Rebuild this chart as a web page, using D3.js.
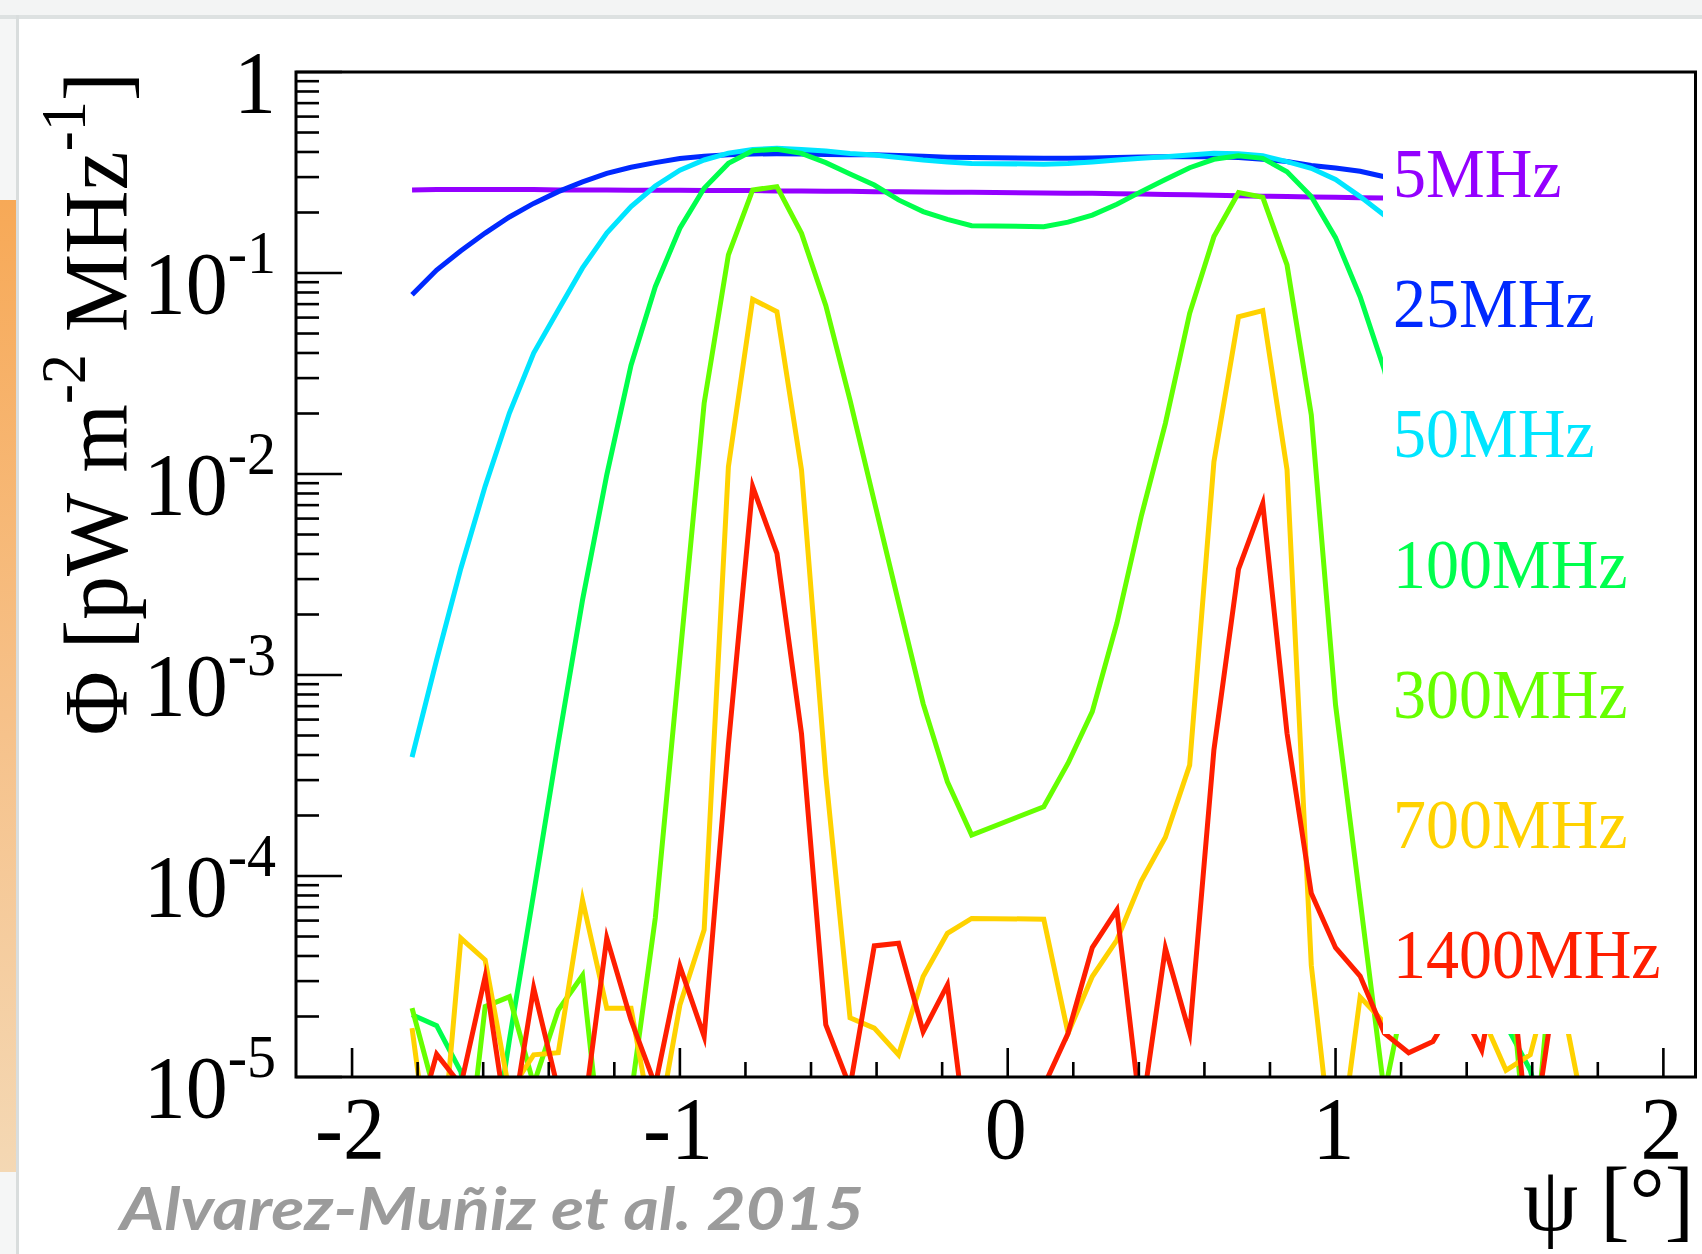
<!DOCTYPE html>
<html><head><meta charset="utf-8">
<script src="https://cdn.jsdelivr.net/npm/d3@7"></script>
<style>
html,body{margin:0;padding:0;background:#fff;}
svg{display:block;}
</style></head>
<body>
<script>
// ---------- data ----------
const psi = [-1.817,-1.742,-1.668,-1.594,-1.520,-1.446,-1.371,-1.297,-1.223,-1.149,-1.075,-1.000,
             -0.926,-0.852,-0.778,-0.704,-0.629,-0.555,-0.481,-0.407,-0.333,-0.258,-0.184,-0.110,
              0.110, 0.184, 0.258, 0.333, 0.407, 0.481, 0.555, 0.629, 0.704, 0.778, 0.852, 0.926,
              1.000, 1.075, 1.149, 1.223, 1.297, 1.371, 1.446, 1.520, 1.594, 1.668, 1.742, 1.817];

const f5 = [0.259,0.260,0.260,0.260,0.260,0.260,0.259,0.259,0.259,0.258,0.258,0.258,
            0.257,0.257,0.257,0.256,0.256,0.255,0.255,0.254,0.254,0.253,0.252,0.252,
            0.250,0.249,0.249,0.248,0.247,0.246,0.245,0.244,0.242,0.241,0.240,0.239,
            0.238,0.237,0.236,null,null,null,null,null,null,null,null,null];
const f25 = [0.078,0.1035,0.129,0.158,0.190,0.222,0.254,0.284,0.313,0.336,0.354,0.371,
             0.381,0.388,0.391,0.392,0.391,0.389,0.388,0.387,0.384,0.381,0.377,0.375,
             0.372,0.372,0.373,0.376,0.378,0.379,0.379,0.379,0.376,0.368,0.359,0.343,
             0.333,0.321,0.301,null,null,null,null,null,null,null,null,null];
const f50 = [3.9e-4,1.19e-3,3.4e-3,8.7e-3,0.0201,0.040,0.0655,0.106,0.158,0.214,0.271,0.325,
             0.365,0.395,0.412,0.417,0.412,0.405,0.393,0.386,0.376,0.365,0.357,0.351,
             0.348,0.351,0.357,0.365,0.372,0.379,0.386,0.394,0.392,0.383,0.358,0.332,
             0.292,0.240,0.194,null,null,null,null,null,null,null,null,null];
const f100 = [2.04e-5,1.8e-5,1.06e-5,2.5e-6,1.53e-5,8.2e-5,4.6e-4,2.36e-3,9.9e-3,0.0348,0.0855,0.167,
              0.264,0.351,0.406,0.4125,0.394,0.354,0.311,0.274,0.231,0.202,0.185,0.172,
              0.170,0.179,0.194,0.220,0.254,0.292,0.334,0.368,0.383,0.372,0.319,0.240,
              0.150,0.0762,0.0329,0.010,2.4e-3,4.5e-4,8e-5,1.82e-5,1.08e-5,4e-6,4e-6,4e-6];
const f300 = [2.2e-5,7.7e-6,2e-6,2.24e-5,2.51e-5,9.2e-6,2.15e-5,3.2e-5,2.5e-6,8.1e-6,6.18e-5,1.22e-3,
              0.0225,0.123,0.259,0.269,0.1575,0.069,0.0233,7.3e-3,2.3e-3,7.2e-4,2.94e-4,1.6e-4,
              2.21e-4,3.64e-4,6.57e-4,1.81e-3,6.13e-3,0.01787,0.063,0.1517,0.251,0.238,0.1096,0.0197,
              7.1e-4,7.6e-5,8.3e-6,3.25e-5,3e-5,3e-5,3e-5,6e-5,2.5e-6,5.4e-5,3e-5,3e-5];
const f700 = [1.75e-5,2.1e-6,4.9e-5,3.82e-5,8.4e-6,1.29e-5,1.32e-5,7.6e-5,2.2e-5,2.2e-5,4.7e-6,2.28e-5,
              5.4e-5,0.01087,0.074,0.0642,0.01047,3.18e-4,1.97e-5,1.75e-5,1.29e-5,3.16e-5,5.19e-5,6.15e-5,
              6.1e-5,1.65e-5,3.16e-5,4.8e-5,9.4e-5,1.56e-4,3.56e-4,0.0115,0.0606,0.065,0.0105,3.6e-5,
              3e-6,2.5e-5,1.86e-5,2.2e-5,2.5e-5,2.3e-5,2.03e-5,1.08e-5,1.29e-5,3.7e-5,9e-6,7e-6];
const f1400 = [4.7e-6,1.3e-5,9.1e-6,3.16e-5,4.9e-6,2.77e-5,8.6e-6,5.9e-6,4.92e-5,1.92e-5,9.1e-6,3.56e-5,
               1.59e-5,4.5e-4,8.65e-3,4.03e-3,5.1e-4,1.82e-5,8.9e-6,4.49e-5,4.63e-5,1.68e-5,2.87e-5,3.1e-6,
               9e-6,1.65e-5,4.4e-5,6.78e-5,6.3e-6,4.37e-5,1.65e-5,4.24e-4,3.36e-3,7.14e-3,5.13e-4,8.2e-5,
               4.4e-5,3.18e-5,1.65e-5,1.32e-5,1.5e-5,2.4e-5,1.36e-5,6e-5,4e-6,2.65e-5,2.5e-5,2.5e-5];

const seriesNames = ["5MHz","25MHz","50MHz","100MHz","300MHz","700MHz","1400MHz"];
const seriesValues = [f5,f25,f50,f100,f300,f700,f1400];
const seriesColors = ["#9400ff","#0029ff","#00e5ff","#00ff4d","#66ff00","#ffd200","#ff1e00"];

const yTickValues = [1e-5,1e-4,1e-3,1e-2,1e-1,1];
const yTickExp = ["-5","-4","-3","-2","-1",null];
const xTickValues = [-2,-1,0,1,2];
const xTickLabels = ["-2","-1","0","1","2"];

// ---------- layout ----------
const W = 1702, H = 1254;
const L = 296, R = 1695.5, T = 72, B = 1077;
const serif = "'Liberation Serif','Times New Roman',Times,serif";

const svg = d3.select("body").append("svg").attr("width", W).attr("height", H);

// page chrome (screenshot frame)
const defs = svg.append("defs");
const g1 = defs.append("linearGradient").attr("id","orng").attr("x1",0).attr("y1",0).attr("x2",0).attr("y2",1);
g1.append("stop").attr("offset","0").attr("stop-color","#f7a957");
g1.append("stop").attr("offset","0.55").attr("stop-color","#f6c28b");
g1.append("stop").attr("offset","1").attr("stop-color","#f4d8b4");
svg.append("rect").attr("width",W).attr("height",H).attr("fill","#ffffff");
svg.append("rect").attr("x",0).attr("y",0).attr("width",W).attr("height",15).attr("fill","#f3f4f4");
svg.append("rect").attr("x",0).attr("y",15).attr("width",W).attr("height",4).attr("fill","#dde1e1");
svg.append("rect").attr("x",0).attr("y",19).attr("width",17).attr("height",H-19).attr("fill","#f5f6f6");
svg.append("rect").attr("x",0).attr("y",200).attr("width",16).attr("height",972).attr("fill","url(#orng)");
svg.append("rect").attr("x",16).attr("y",15).attr("width",3).attr("height",H-15).attr("fill","#d9dddd");

// scales
const x = d3.scaleLinear().domain([-2.171, 2.098]).range([L, R]);
const y = d3.scaleLog().domain([1e-5, 1]).range([B, T]);

// clip
defs.append("clipPath").attr("id","plotclip").append("rect")
  .attr("x",L).attr("y",T).attr("width",R-L).attr("height",B-T);

const plot = svg.append("g").attr("clip-path","url(#plotclip)");
const line = d3.line()
  .defined(d => d[1] !== null)
  .x(d => x(d[0]))
  .y(d => y(Math.max(d[1], 1e-9)));

seriesValues.forEach((vals, i) => {
  const pts = psi.map((p, j) => [p, vals[j]]);
  plot.append("path").datum(pts)
    .attr("d", line)
    .attr("fill","none")
    .attr("stroke", seriesColors[i])
    .attr("stroke-width", 5)
    .attr("stroke-linejoin","miter")
    .attr("stroke-miterlimit", 10);
});

// legend box (white, covers the curves on the right)
svg.append("rect").attr("x",1383).attr("y",T+1).attr("width",R-1383-1).attr("height",1034-T-1).attr("fill","#ffffff");

// frame
svg.append("rect").attr("x",L).attr("y",T).attr("width",R-L).attr("height",B-T)
  .attr("fill","none").attr("stroke","#000").attr("stroke-width",3);

// y ticks
const yt = svg.append("g");
y.ticks().forEach(v => {
  const e = Math.log10(v);
  const major = Math.abs(e - Math.round(e)) < 1e-9;
  yt.append("line").attr("x1",L).attr("x2",L + (major ? 46 : 23))
    .attr("y1",y(v)).attr("y2",y(v)).attr("stroke","#000").attr("stroke-width",2.6);
});
// x ticks
const xt = svg.append("g");
x.ticks(20).forEach(v => {
  const major = Math.abs(v - Math.round(v)) < 1e-9;
  xt.append("line").attr("x1",x(v)).attr("x2",x(v))
    .attr("y1",B).attr("y2",B - (major ? 29 : 15)).attr("stroke","#000").attr("stroke-width",2.6);
});

// y tick labels
yTickValues.forEach((v, i) => {
  const g = svg.append("g").attr("transform",`translate(276,${y(v)+40}) scale(1,1.07)`);
  const t = g.append("text").attr("x",0).attr("y",0).attr("text-anchor","end")
    .attr("font-family",serif).attr("font-size",84).attr("fill","#000");
  if (yTickExp[i] === null) {
    t.text("1");
  } else {
    t.append("tspan").text("10");
    t.append("tspan").attr("dy",-37).attr("font-size",58).text(yTickExp[i]);
  }
});
// x tick labels
xTickValues.forEach((v, i) => {
  svg.append("g").attr("transform",`translate(${x(v)-2},1158) scale(1,1.07)`)
    .append("text").attr("text-anchor","middle")
    .attr("font-family",serif).attr("font-size",84).attr("fill","#000")
    .text(xTickLabels[i]);
});

// axis titles
const yt2 = svg.append("g").attr("transform","translate(127,72) rotate(-90) scale(1,1.04)")
  .append("text").attr("text-anchor","end").attr("font-family",serif).attr("font-size",88).attr("fill","#000");
yt2.append("tspan").text("Φ [pW m");
yt2.append("tspan").attr("dy",-40).attr("font-size",60).text("-2");
yt2.append("tspan").attr("dy",40).text(" MHz");
yt2.append("tspan").attr("dy",-40).attr("font-size",60).text("-1");
yt2.append("tspan").attr("dy",40).text("]");

svg.append("g").attr("transform","translate(1694,1230) scale(1,1.04)")
  .append("text").attr("text-anchor","end").attr("font-family",serif).attr("font-size",88).attr("fill","#000")
  .text("ψ [°]");

// series labels
seriesNames.forEach((n, i) => {
  svg.append("g").attr("transform",`translate(1393,${197 + i*130.2}) scale(1,1.05)`)
    .append("text").attr("font-family",serif).attr("font-size",66)
    .attr("fill",seriesColors[i]).text(n);
});

// credit
svg.append("text").attr("x",120).attr("y",1230)
  .attr("font-family","Lato,'Open Sans',sans-serif").attr("font-style","italic").attr("font-weight",700)
  .attr("font-size",60).attr("fill","#9b9b9b")
  .attr("textLength",744).attr("lengthAdjust","spacingAndGlyphs")
  .text("Alvarez-Muñiz et al. 2015");
</script>
</body></html>
